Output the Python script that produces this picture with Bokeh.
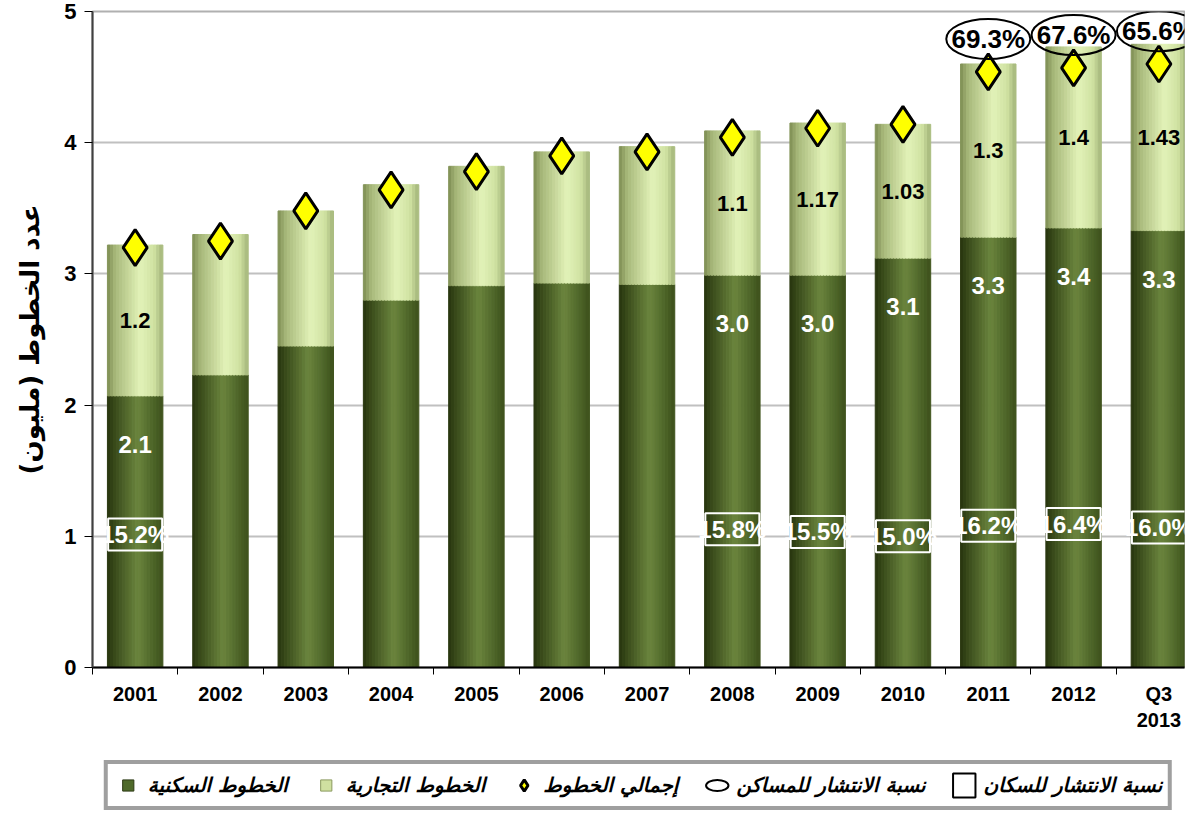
import numpy as np
from bokeh.plotting import figure
from bokeh.layouts import column
from bokeh.models import (ColumnDataSource, Range1d, Legend, LegendItem, FixedTicker)
from bokeh.core.properties import value
from bokeh.embed import file_html
from bokeh.resources import INLINE

# ---------------- data ----------------
years = ["2001", "2002", "2003", "2004", "2005", "2006", "2007",
         "2008", "2009", "2010", "2011", "2012", "Q3\n2013"]
residential = [2.07, 2.23, 2.45, 2.80, 2.91, 2.93, 2.92, 2.99, 2.99, 3.12, 3.28, 3.35, 3.33]
commercial = [1.15, 1.07, 1.03, 0.88, 0.91, 1.00, 1.05, 1.10, 1.16, 1.02, 1.32, 1.38, 1.42]
total_lines = [3.20, 3.25, 3.48, 3.64, 3.78, 3.90, 3.93, 4.04, 4.11, 4.14, 4.54, 4.57, 4.60]
res_labels = ["2.1", "", "", "", "", "", "", "3.0", "3.0", "3.1", "3.3", "3.4", "3.3"]
com_labels = ["1.2", "", "", "", "", "", "", "1.1", "1.17", "1.03", "1.3", "1.4", "1.43"]
pop_years = [0, 7, 8, 9, 10, 11, 12]
pop_pen = [15.2, 15.8, 15.5, 15.0, 16.2, 16.4, 16.0]
hh_years = [10, 11, 12]
hh_pen = [69.3, 67.6, 65.6]

legend_labels = ["الخطوط السكنية", "الخطوط التجارية", "إجمالي الخطوط",
                 "نسبة الانتشار للمساكن", "نسبة الانتشار للسكان"]
y_title = "عدد الخطوط (مليون)"

FONT = "Liberation Sans"
AR_FONT = "DejaVu Sans"

# ---------------- figure ----------------
p = figure(width=1185, height=759, x_range=Range1d(-0.5, 12.3), y_range=Range1d(0, 5.0),
           output_backend="svg", toolbar_location=None,
           min_border_left=92, min_border_top=11, min_border_right=1, min_border_bottom=92)
p.background_fill_color = "white"
p.outline_line_color = "#b0b0b0"
p.outline_line_width = 2

p.xgrid.grid_line_color = None
p.ygrid.grid_line_color = "#c0c0c0"
p.ygrid.grid_line_width = 2
p.ygrid.ticker = FixedTicker(ticks=[0, 1, 2, 3, 4, 5])

xs = list(range(len(years)))
p.xaxis.ticker = FixedTicker(ticks=xs, minor_ticks=[x - 0.5 for x in xs] + [12.5])
p.xaxis.major_label_overrides = {i: years[i] for i in xs}
p.xaxis.major_tick_line_color = None
p.xaxis.minor_tick_line_color = "black"
p.xaxis.minor_tick_out = 7
p.xaxis.minor_tick_in = 0
p.xaxis.axis_line_color = "black"
p.xaxis.axis_line_width = 2
p.xaxis.major_label_text_font = FONT
p.xaxis.major_label_text_font_style = "bold"
p.xaxis.major_label_text_font_size = "20px"
p.xaxis.major_label_text_color = "black"
p.xaxis.major_label_standoff = 8

p.yaxis.ticker = FixedTicker(ticks=[0, 1, 2, 3, 4, 5])
p.yaxis.minor_tick_line_color = None
p.yaxis.major_tick_out = 8
p.yaxis.major_tick_in = 0
p.yaxis.axis_line_color = "#404040"
p.yaxis.axis_line_width = 2
p.yaxis.major_label_text_font = FONT
p.yaxis.major_label_text_font_style = "bold"
p.yaxis.major_label_text_font_size = "22px"
p.yaxis.major_label_text_color = "black"
p.yaxis.major_label_standoff = 8
p.yaxis.axis_label = y_title
p.yaxis.axis_label_text_font = AR_FONT
p.yaxis.axis_label_text_font_style = "bold"
p.yaxis.axis_label_text_font_size = "26px"
p.yaxis.axis_label_text_color = "black"
p.yaxis.axis_label_standoff = 16

# ---------------- cylinder-like bars ----------------
def hexc(c):
    c = c.lstrip("#")
    return np.array([int(c[i:i + 2], 16) for i in (0, 2, 4)], dtype=float)

def ramp(stops, t):
    for (t0, c0), (t1, c1) in zip(stops[:-1], stops[1:]):
        if t0 <= t <= t1:
            f = (t - t0) / (t1 - t0) if t1 > t0 else 0
            c = hexc(c0) * (1 - f) + hexc(c1) * f
            return "#%02x%02x%02x" % tuple(int(round(v)) for v in c)
    return stops[-1][1]

dark_stops = [(0, "#26330e"), (0.15, "#3a4c1b"), (0.55, "#6b853e"), (0.8, "#51692b"), (1, "#3d511c")]
light_stops = [(0, "#7c8c52"), (0.15, "#a7b87a"), (0.6, "#e2f2b8"), (0.85, "#d0e2a2"), (1, "#a3b57a")]

BW = 0.65
NS = 18
sx, sb, st, scol = [], [], [], []
for i in xs:
    for k in range(NS):
        t = (k + 0.5) / NS
        xc = i - BW / 2 + t * BW
        sx.append(xc); sb.append(0); st.append(residential[i]); scol.append(ramp(dark_stops, t))
        sx.append(xc); sb.append(residential[i]); st.append(residential[i] + commercial[i])
        scol.append(ramp(light_stops, t))
slice_src = ColumnDataSource(dict(x=sx, bottom=sb, top=st, color=scol))
p.vbar(x="x", bottom="bottom", top="top", width=BW / NS, fill_color="color",
       line_color="color", line_width=1, source=slice_src)

# ---------------- bar value labels ----------------
res_src = ColumnDataSource(dict(x=xs, y=[r - 0.37 for r in residential], t=res_labels))
p.text(x="x", y="y", text="t", source=res_src, text_align="center", text_baseline="middle",
       text_font=value(FONT), text_font_style="bold", text_font_size="24px", text_color="white")
com_src = ColumnDataSource(dict(x=xs, y=[r + c / 2 for r, c in zip(residential, commercial)],
                                t=com_labels))
p.text(x="x", y="y", text="t", source=com_src, text_align="center", text_baseline="middle",
       text_font=value(FONT), text_font_style="bold", text_font_size="22px", text_color="black")

# ---------------- population penetration boxes (secondary scale) ----------------
p.extra_y_ranges = {"pct": Range1d(0, 75)}
pop_src = ColumnDataSource(dict(x=pop_years, y=pop_pen, t=["%.1f%%" % v for v in pop_pen]))
p.rect(x="x", y="y", width=54, height=32, width_units="screen", height_units="screen",
       fill_color=None, line_color="white", line_width=2, source=pop_src, y_range_name="pct")
p.text(x="x", y="y", text="t", source=pop_src, y_range_name="pct", text_align="center",
       text_baseline="middle", text_font=value(FONT), text_font_style="bold",
       text_font_size="24px", text_color="white")

# ---------------- total lines diamonds ----------------
tot_src = ColumnDataSource(dict(x=xs, y=total_lines))
p.scatter(x="x", y="y", source=tot_src, marker="diamond", size=36,
          fill_color="#ffff00", line_color="black", line_width=3)

# ---------------- household penetration ellipses ----------------
hh_src = ColumnDataSource(dict(x=hh_years, y=[total_lines[i] + 0.25 for i in hh_years],
                               t=["%.1f%%" % v for v in hh_pen]))
p.ellipse(x="x", y="y", width=84, height=40, width_units="screen", height_units="screen",
          fill_color=None, line_color="black", line_width=2, source=hh_src)
p.text(x="x", y="y", text="t", source=hh_src, text_align="center", text_baseline="middle",
       text_font=value(FONT), text_font_style="bold", text_font_size="26px", text_color="black")

# ---------------- legend in its own strip ----------------
lf = figure(width=1185, height=52, x_range=Range1d(0, 1), y_range=Range1d(0, 1),
            output_backend="svg", toolbar_location=None, min_border=0)
lf.axis.visible = False
lf.grid.visible = False
lf.outline_line_color = None

def proxy():
    return ColumnDataSource(dict(x=[np.nan], y=[np.nan]))

r_res = lf.scatter(x="x", y="y", source=proxy(), marker="square", size=14,
                   fill_color="#4f6a2a", line_color="#2c3a14", line_width=1)
r_com = lf.scatter(x="x", y="y", source=proxy(), marker="square", size=14,
                   fill_color="#cfe0a0", line_color="#8a9a5e", line_width=1)
r_tot = lf.scatter(x="x", y="y", source=proxy(), marker="diamond", size=36,
                   fill_color="#ffff00", line_color="black", line_width=3)
r_hh = lf.ellipse(x="x", y="y", width=28, height=14, width_units="screen",
                  height_units="screen", source=proxy(),
                  fill_color=None, line_color="black", line_width=2)
r_pop = lf.rect(x="x", y="y", width=28, height=13, width_units="screen",
                height_units="screen", source=proxy(),
                fill_color=None, line_color="black", line_width=2)

legend = Legend(items=[LegendItem(label=legend_labels[0], renderers=[r_res]),
                       LegendItem(label=legend_labels[1], renderers=[r_com]),
                       LegendItem(label=legend_labels[2], renderers=[r_tot]),
                       LegendItem(label=legend_labels[3], renderers=[r_hh]),
                       LegendItem(label=legend_labels[4], renderers=[r_pop])],
                orientation="horizontal", location="center")
legend.label_text_font = AR_FONT
legend.label_text_font_style = "bold italic"
legend.label_text_font_size = "20px"
legend.label_text_color = "black"
legend.glyph_width = 28
legend.glyph_height = 30
legend.label_standoff = 6
legend.spacing = 24
legend.padding = 6
legend.margin = 0
legend.border_line_color = "#404040"
legend.border_line_width = 4
legend.background_fill_color = "white"
lf.add_layout(legend, "center")

open("out.html", "w").write(file_html(column(p, lf, spacing=0), INLINE))
